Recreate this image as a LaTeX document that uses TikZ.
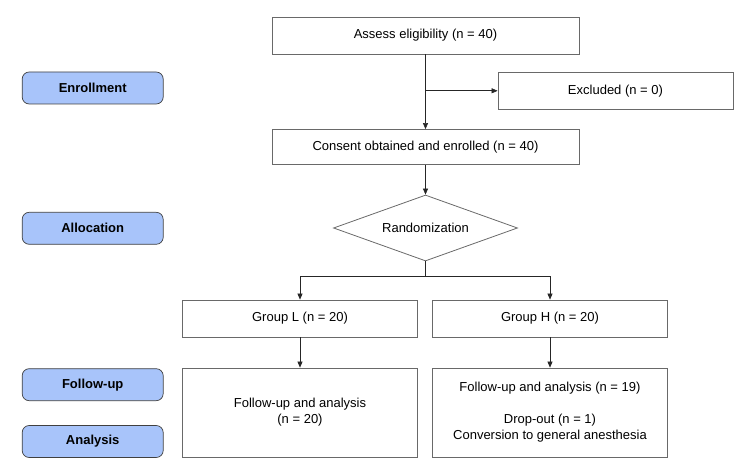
\documentclass[tikz,border=0pt]{standalone}
\usepackage{fontspec}
\setmainfont{Liberation Sans}
\usetikzlibrary{shapes.geometric,arrows.meta}
\definecolor{phaseblue}{RGB}{168,196,250}
\definecolor{boxgray}{RGB}{105,105,105}
\tikzset{
  stagebox/.style={draw=boxgray, line width=0.8pt, inner sep=0pt, align=center,
    minimum width=235pt, font=\fontsize{13}{16}\selectfont},
  phase/.style={draw=black!75, fill=phaseblue, line width=0.7pt, rounded corners=7pt,
    minimum width=141pt, minimum height=32pt, inner sep=0pt, font=\fontsize{13}{16}\selectfont\bfseries},
  flow/.style={draw=black!85, line width=0.6pt, -{Triangle[length=6pt,width=5pt]}},
}
\begin{document}
\begin{tikzpicture}[x=1pt, y=-1pt]
  \useasboundingbox (0,0) rectangle (745,470);
  % Phases
  \foreach \y/\name/\txt in
    {88/enr/Enrollment, 228.3/alloc/Allocation,
     384.7/fup/Follow-up, 441.5/ana/Analysis}
    \node[phase] (\name) at (92.7,\y) {\txt};
  % Flow boxes
  \node[stagebox, minimum width=307pt, minimum height=37pt] (assess) at (425.5,35.5) {Assess eligibility (n = 40)};
  \node[stagebox, minimum height=37pt] (excl) at (615.5,90.8) {Excluded (n = 0)};
  \node[stagebox, minimum width=307pt, minimum height=35pt] (consent) at (425.5,147) {Consent obtained and enrolled (n = 40)};
  \node[diamond, draw=boxgray, line width=0.8pt, aspect=2.79, minimum width=184pt, minimum height=66pt,
    inner sep=0pt, font=\fontsize{13}{16}\selectfont] (rand) at (425.5,228) {Randomization};
  \node[stagebox, minimum height=37pt] (grpL) at (300,318.5) {Group L (n = 20)};
  \node[stagebox, minimum height=37pt] (grpH) at (550,318.5) {Group H (n = 20)};
  \node[stagebox, minimum height=89pt] (fuL) at (300,412.5) {Follow-up and analysis\\(n = 20)};
  \node[stagebox, minimum height=89pt] (fuH) at (550,412.5)
    {Follow-up and analysis (n = 19)\\[16pt]Drop-out (n = 1)\\Conversion to general anesthesia};
  % Connectors
  \coordinate (split) at (425.5,276);
  \draw[flow] (assess.south) -- (consent.north);
  \draw[flow] (assess.south |- excl.west) -- (excl.west);
  \draw[flow] (consent.south) -- (rand.north);
  \draw[draw=black!85, line width=0.6pt] (rand.south) -- (split);
  \draw[flow] (split) -| (grpL.north);
  \draw[flow] (split) -| (grpH.north);
  \draw[flow] (grpL.south) -- (fuL.north);
  \draw[flow] (grpH.south) -- (fuH.north);
\end{tikzpicture}
\end{document}
